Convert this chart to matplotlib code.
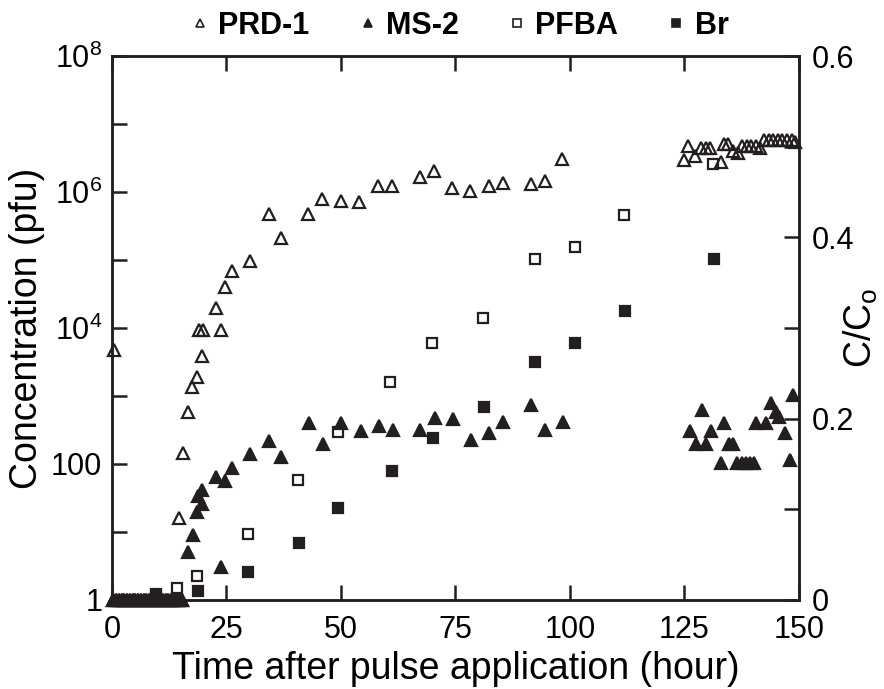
import matplotlib
matplotlib.use("Agg")
import matplotlib.pyplot as plt
from matplotlib.lines import Line2D
from matplotlib.ticker import FixedLocator, FuncFormatter, NullLocator

plt.rcParams['font.family'] = ['Liberation Sans', 'DejaVu Sans']
plt.rcParams['mathtext.fontset'] = 'custom'
plt.rcParams['mathtext.rm'] = 'Liberation Sans'
plt.rcParams['mathtext.it'] = 'Liberation Sans:italic'
plt.rcParams['mathtext.bf'] = 'Liberation Sans:bold'

# ---------------- data ----------------
early_t = [0.3, 0.9, 1.5, 2.1, 2.7, 3.3, 3.9, 4.5, 5.1, 5.7, 6.3, 6.9, 7.5, 8.1,
           8.7, 9.3, 9.9, 10.5, 11.1, 11.7, 12.3, 12.9, 13.5, 14.1, 14.7, 15.3]
early_c = [1.0] * len(early_t)

prd1_t = [0.4, 14.6, 15.6, 16.5, 17.5, 18.6, 19.0, 19.7, 19.9, 22.6, 23.7, 24.6,
          26.2, 30.2, 34.2, 36.9, 42.9, 45.9, 49.9, 53.9, 58.1, 61.2, 67.2, 70.3,
          74.2, 78.2, 82.3, 85.4, 91.4, 94.5, 98.3,
          124.9, 125.8, 127.3, 128.7, 129.7, 130.6, 132.9, 133.6, 134.6, 135.5,
          136.7, 137.6, 138.7, 139.6, 140.6, 141.5, 142.3, 143.4, 144.4, 145.4,
          146.4, 147.3, 148.4, 149.1]
prd1_c = [4700, 16, 144, 575, 1350, 1900, 9500, 3900, 9500, 19500, 9500, 40000,
          69000, 98000, 470000, 210000, 470000, 780000, 740000, 720000, 1230000,
          1230000, 1660000, 2040000, 1150000, 1050000, 1230000, 1350000, 1320000,
          1450000, 3100000,
          3000000, 4700000, 3400000, 4400000, 4400000, 4400000, 2800000, 5000000,
          5000000, 4000000, 3700000, 4700000, 4700000, 4700000, 4800000, 4400000,
          5800000, 5800000, 5800000, 5800000, 5800000, 5800000, 5800000, 5400000]

ms2_t = [16.6, 17.6, 18.6, 18.7, 19.6, 19.7, 22.6, 23.7, 24.7, 26.3, 30.2, 34.3,
         37.0, 43.0, 46.1, 50.1, 54.3, 58.4, 61.4, 67.2, 70.5, 74.4, 78.4, 82.4,
         85.4, 91.5, 94.6, 98.5,
         126.1, 127.5, 128.9, 129.8, 130.8, 132.9, 133.7, 134.7, 135.6, 136.5,
         137.5, 138.4, 139.4, 140.2, 140.7, 142.9, 143.8, 144.9, 145.7, 146.9,
         148.0, 148.8]
ms2_c = [5.0, 9.1, 19.5, 34, 42, 26, 65, 3.1, 56, 87, 141, 219, 126, 398, 200,
         398, 309, 363, 316, 316, 479, 457, 229, 282, 417, 741, 316, 417,
         302, 200, 617, 200, 302, 102, 407, 200, 200, 102, 102, 102, 102, 102,
         407, 407, 776, 589, 490, 288, 115, 1020]

pfba_t = [9.6, 14.1, 18.5, 29.7, 40.6, 49.4, 60.8, 69.9, 80.9, 92.3, 101.0,
          111.9, 131.3]
pfba_c = [0.005, 0.013, 0.026, 0.073, 0.132, 0.185, 0.240, 0.284, 0.311, 0.376,
          0.389, 0.425, 0.481]

br_t = [9.6, 18.7, 29.8, 40.8, 49.4, 61.2, 70.0, 81.2, 92.4, 101.2, 112.0, 131.4]
br_c = [0.007, 0.010, 0.031, 0.063, 0.101, 0.142, 0.179, 0.213, 0.263, 0.284,
        0.319, 0.376]

x_ticks = [0, 25, 50, 75, 100, 125, 150]
left_ticks = [1e0, 1e1, 1e2, 1e3, 1e4, 1e5, 1e6, 1e7, 1e8]
left_labels = {1e0: '1', 1e2: '100', 1e4: r'10$^{4}$', 1e6: r'10$^{6}$', 1e8: r'10$^{8}$'}
right_ticks = [0, 0.1, 0.2, 0.3, 0.4, 0.5, 0.6]
right_labels = {0: '0', 0.2: '0.2', 0.4: '0.4', 0.6: '0.6'}

# ---------------- figure ----------------
fig = plt.figure(figsize=(8.84, 6.89), dpi=100)
ax = fig.add_axes([0.1267, 0.1292, 0.7771, 0.7895])
ax2 = ax.twinx()

ink = '#231f20'
ms = 8.3
mew = 1.6
ax.plot(early_t, early_c, ls='none', marker='^', ms=ms, mfc='none', mec=ink,
        mew=mew, clip_on=False)
ax.plot(early_t, early_c, ls='none', marker='^', ms=ms, mfc=ink, mec=ink,
        mew=mew, clip_on=False)
ax.plot(prd1_t, prd1_c, ls='none', marker='^', ms=ms, mfc='none', mec=ink,
        mew=mew, clip_on=False)
ax.plot(ms2_t, ms2_c, ls='none', marker='^', ms=ms, mfc=ink, mec=ink,
        mew=mew, clip_on=False)
ax2.plot(pfba_t, pfba_c, ls='none', marker='s', ms=7.2, mfc='none', mec=ink,
         mew=mew, clip_on=False)
ax2.plot(br_t, br_c, ls='none', marker='s', ms=7.2, mfc=ink, mec=ink,
         mew=mew, clip_on=False)

ax.set_xlim(0, 150)
ax.set_yscale('log')
ax.set_ylim(1, 1e8)
ax2.set_ylim(0, 0.6)

ax.xaxis.set_major_locator(FixedLocator(x_ticks))
ax.xaxis.set_major_formatter(FuncFormatter(lambda v, p: '%d' % v))
ax.yaxis.set_major_locator(FixedLocator(left_ticks))
ax.yaxis.set_minor_locator(NullLocator())
ax.yaxis.set_major_formatter(FuncFormatter(lambda v, p: left_labels.get(v, '')))
ax2.yaxis.set_major_locator(FixedLocator(right_ticks))
ax2.yaxis.set_major_formatter(FuncFormatter(
    lambda v, p: next((s for k, s in right_labels.items() if abs(k - v) < 1e-9), '')))

lw = 1.8
for a in (ax, ax2):
    for s in a.spines.values():
        s.set_linewidth(lw)
        s.set_color(ink)
ax.tick_params(axis='x', which='major', direction='in', length=11, width=lw,
               labelsize=22, top=True, color=ink, pad=11)
ax.tick_params(axis='y', which='major', direction='in', length=11, width=lw,
               labelsize=22, color=ink, pad=7)
ax2.tick_params(axis='y', which='major', direction='in', length=11, width=lw,
                labelsize=22, color=ink, pad=9)

ax.set_xlabel('Time after pulse application (hour)', fontsize=27, labelpad=4)
ax.set_ylabel('Concentration (pfu)', fontsize=27, labelpad=4)
ax2.set_ylabel(r'C/C$_{\mathrm{o}}$', fontsize=27, rotation=90)
ax2.yaxis.set_label_coords(1.062, 0.5)

handles = [
    Line2D([], [], ls='none', marker='^', ms=6, mfc='none', mec=ink, mew=1.2),
    Line2D([], [], ls='none', marker='^', ms=6, mfc=ink, mec=ink, mew=1.2),
    Line2D([], [], ls='none', marker='s', ms=5.5, mfc='none', mec=ink, mew=1.2),
    Line2D([], [], ls='none', marker='s', ms=5.5, mfc=ink, mec=ink, mew=1.2),
]
fig.legend(handles, ['PRD-1', 'MS-2', 'PFBA', 'Br'], loc='upper center',
           bbox_to_anchor=(0.52, 1.015), ncol=4, frameon=False,
           prop={'weight': 'bold', 'size': 22}, handlelength=0.6,
           handletextpad=0.3, columnspacing=1.6, borderpad=0.2)

fig.savefig('out.png', dpi=100)
